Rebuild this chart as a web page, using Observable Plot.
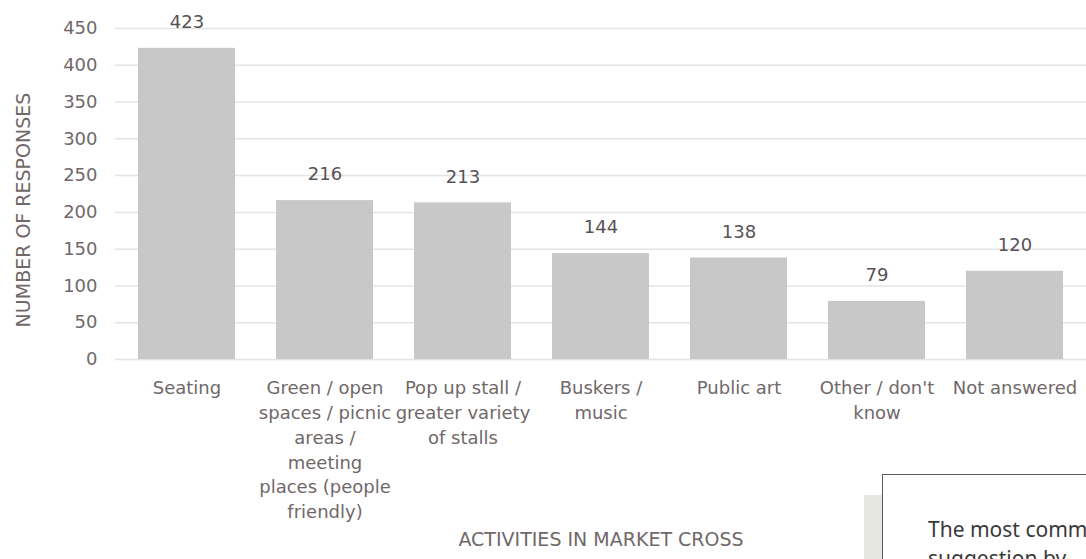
<!DOCTYPE html>
<html><head><meta charset="utf-8">
<script src="https://cdn.jsdelivr.net/npm/d3@7"></script>
<script src="https://cdn.jsdelivr.net/npm/@observablehq/plot@0.6"></script>
<style>
html,body{margin:0;padding:0;background:#fff;width:1086px;height:559px;overflow:hidden;position:relative;}
#chart{position:absolute;left:0;top:0;}
#shade{position:absolute;left:864px;top:495px;width:40px;height:80px;background:#e7e7e2;}
#note{position:absolute;left:882px;top:474px;width:300px;height:140px;background:#fff;border:1.5px solid #5a5a5a;box-sizing:border-box;
  font-family:"Noto Sans",sans-serif;font-size:21px;color:#3a3a3a;line-height:29px;padding:40px 0 0 45px;white-space:nowrap;}
</style>
</head><body>
<div id="chart"></div>
<div id="shade"></div>
<div id="note">The most common<br>suggestion by</div>
<script>
const categories = [
  "Seating",
  "Green / open\nspaces / picnic\nareas /\nmeeting\nplaces (people\nfriendly)",
  "Pop up stall /\ngreater variety\nof stalls",
  "Buskers /\nmusic",
  "Public art",
  "Other / don't\nknow",
  "Not answered"
];
const responses = [423, 216, 213, 144, 138, 79, 120];
const yTicks = [0, 50, 100, 150, 200, 250, 300, 350, 400, 450];
const yTitle = "NUMBER OF RESPONSES";
const xTitle = "ACTIVITIES IN MARKET CROSS";

const data = categories.map((c, i) => ({category: c, value: responses[i]}));
const font = "DejaVu Sans, sans-serif";
const textColor = "#706869";

const chart = Plot.plot({
  width: 1086,
  height: 559,
  marginLeft: 115,
  marginRight: 0,
  marginTop: 28,
  marginBottom: 200,
  style: {fontFamily: font, background: "#fff"},
  x: {domain: categories, paddingInner: 0.3, paddingOuter: 0.15, label: null},
  y: {domain: [0, 450], ticks: yTicks, label: null},
  marks: [
    Plot.gridY(yTicks, {stroke: "#e4e4e4", strokeOpacity: 1, strokeWidth: 1.5}),
    Plot.barY(data, {x: "category", y: "value", fill: "#c8c8c8"}),
    Plot.text(data, {x: "category", y: "value", text: d => String(d.value), dy: -26, fill: "#585255", fontSize: 18}),
    Plot.axisY({ticks: yTicks, tickSize: 0, tickPadding: 18, fontSize: 18, color: textColor, label: null}),
    Plot.axisX({tickSize: 0, tickPadding: 17, fontSize: 18, lineHeight: 1.38, color: textColor, label: null}),
    Plot.text([yTitle], {frameAnchor: "left", textAnchor: "middle", dx: -92, dy: 16, rotate: -90, fontSize: 19, fill: textColor}),
    Plot.text([xTitle], {frameAnchor: "bottom", dy: 186, fontSize: 19, fill: textColor})
  ]
});
document.getElementById("chart").appendChild(chart);
</script>
</body></html>
